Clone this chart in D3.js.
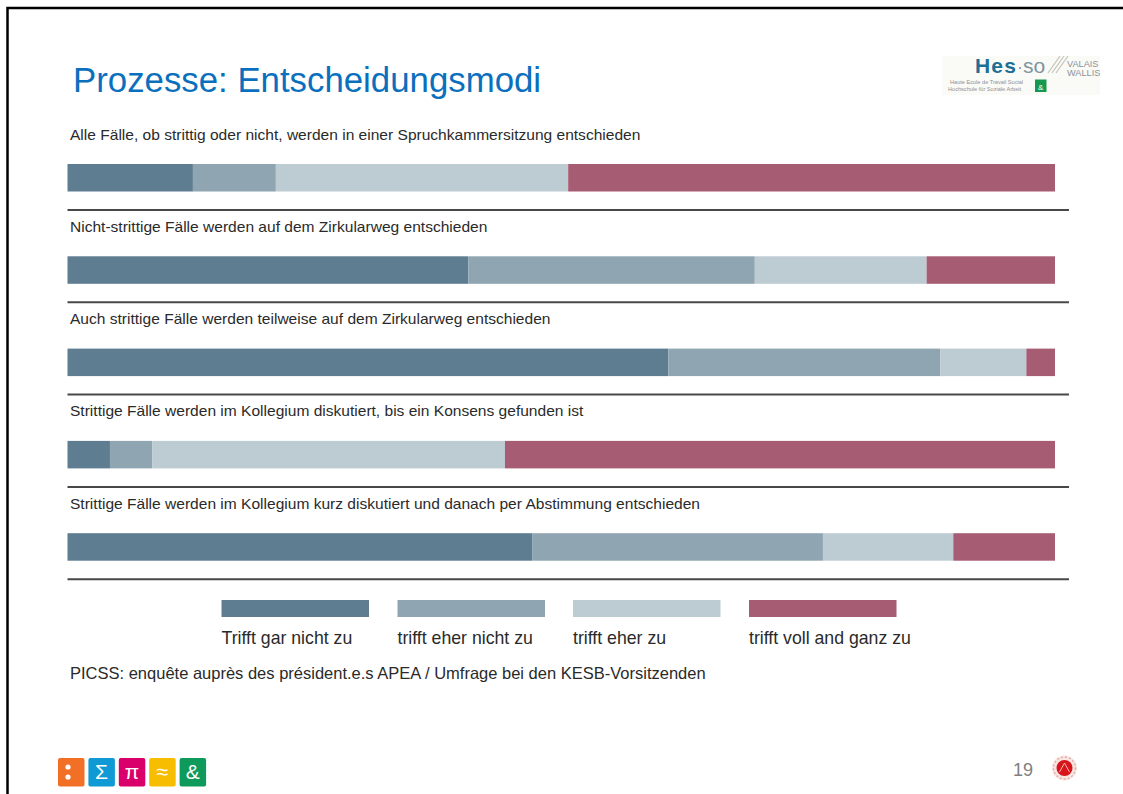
<!DOCTYPE html>
<html><head><meta charset="utf-8">
<script src="https://cdn.jsdelivr.net/npm/d3@7"></script>
<style>html,body{margin:0;padding:0;background:#fff}svg{display:block}text{font-family:"Liberation Sans",Arial,sans-serif}</style>
</head><body><svg id="c" width="1123" height="794"></svg>
<script>
const questions=["Alle Fälle, ob strittig oder nicht, werden in einer Spruchkammersitzung entschieden","Nicht-strittige Fälle werden auf dem Zirkularweg entschieden","Auch strittige Fälle werden teilweise auf dem Zirkularweg entschieden","Strittige Fälle werden im Kollegium diskutiert, bis ein Konsens gefunden ist","Strittige Fälle werden im Kollegium kurz diskutiert und danach per Abstimmung entschieden"];
const categories=["Trifft gar nicht zu","trifft eher nicht zu","trifft eher zu","trifft voll and ganz zu"];
const colours=["#5f7d90","#8fa5b2","#bdcbd3","#a65c72"];
const gar=[12.7,40.6,60.85,4.3,47.05];
const eherNicht=[8.4,29.0,27.55,4.3,29.45];
const eherZu=[29.6,17.4,8.7,35.7,13.2];
const voll=[49.3,13.0,2.9,55.7,10.3];
const logoBoxes=[{c:"#f26f26",t:""},{c:"#0f9ad6",t:"Σ"},{c:"#d9006c",t:"π"},{c:"#f7bd00",t:"≈"},{c:"#0e9a5a",t:"&"}];
const svg=d3.select("#c");
const x=d3.scaleLinear().domain([0,100]).range([67.5,1055]);
const y=d3.scaleBand().domain(d3.range(5)).range([117,578.5]).padding(0);
const series=[gar,eherNicht,eherZu,voll];
const stacked=d3.stack().keys([0,1,2,3]).value((i,k)=>series[k][i])(d3.range(5));
// frame
svg.append("path").attr("d","M7.5,794V8H1123").attr("fill","none").attr("stroke","#000").attr("stroke-width",2.5);
// title
svg.append("text").attr("x",73).attr("y",92).attr("font-size",34.8).attr("fill","#0a70bd").text("Prozesse: Entscheidungsmodi");
// logo
const lg=svg.append("g");
lg.append("rect").attr("x",942).attr("y",56).attr("width",158).attr("height",39).attr("fill","#fafaf7");
lg.append("text").attr("x",975).attr("y",73).attr("font-size",21).attr("font-weight","bold").attr("letter-spacing",1.2).attr("fill","#1d6f96").text("Hes");
lg.append("circle").attr("cx",1020).attr("cy",68).attr("r",1.1).attr("fill","#7d94a1");
lg.append("text").attr("x",1023).attr("y",73).attr("font-size",21).attr("fill","#7d94a1").text("so");
lg.append("path").attr("d","M1048,73L1060,56M1052,73L1064,56M1056,73L1068,56").attr("stroke","#c6c6bc").attr("stroke-width",1.3).attr("fill","none");
lg.append("text").attr("x",1067).attr("y",67).attr("font-size",9.2).attr("fill","#8a9299").text("VALAIS");
lg.append("text").attr("x",1067).attr("y",75.5).attr("font-size",9.2).attr("fill","#8a9299").text("WALLIS");
lg.append("text").attr("x",950).attr("y",84).attr("font-size",5.6).attr("fill","#8a9299").text("Haute Ecole de Travail Social");
lg.append("text").attr("x",948).attr("y",91).attr("font-size",5.6).attr("fill","#8a9299").text("Hochschule für Soziale Arbeit");
lg.append("rect").attr("x",1035).attr("y",79.5).attr("width",11.5).attr("height",12.5).attr("fill","#16994f");
lg.append("text").attr("x",1040.7).attr("y",89.5).attr("text-anchor","middle").attr("font-size",8).attr("fill","#fff").text("&");
// rows
const rowTop=i=>y(i);
svg.append("g").selectAll("text").data(questions).join("text").attr("x",70).attr("y",(d,i)=>rowTop(i)+22.5).attr("font-size",15.55).attr("fill","#2a2a2a").text(d=>d);
stacked.forEach((s,k)=>{
 svg.append("g").selectAll("rect").data(s).join("rect").attr("x",d=>x(d[0])).attr("y",(d,i)=>rowTop(i)+47).attr("width",d=>x(d[1])-x(d[0])).attr("height",27.5).attr("fill",colours[k]);
});
svg.append("g").selectAll("line").data(d3.range(5)).join("line").attr("x1",67.5).attr("x2",1069).attr("y1",i=>rowTop(i)+93).attr("y2",i=>rowTop(i)+93).attr("stroke","#484848").attr("stroke-width",2);
// legend
const lx=[221.5,397.5,573,749];
svg.append("g").selectAll("rect").data(categories).join("rect").attr("x",(d,i)=>lx[i]).attr("y",600).attr("width",147.5).attr("height",17).attr("fill",(d,i)=>colours[i]);
svg.append("g").selectAll("text").data(categories).join("text").attr("x",(d,i)=>lx[i]).attr("y",644).attr("font-size",17.7).attr("fill","#2a2a2a").text(d=>d);
svg.append("text").attr("x",70).attr("y",679).attr("font-size",16.5).attr("fill","#2a2a2a").text("PICSS: enquête auprès des président.e.s APEA / Umfrage bei den KESB-Vorsitzenden");
// bottom logos
const bg=svg.append("g").selectAll("g").data(logoBoxes).join("g").attr("transform",(d,i)=>`translate(${58+i*30.4},758)`);
bg.append("rect").attr("width",26.5).attr("height",28.5).attr("rx",2).attr("fill",d=>d.c);
bg.append("text").attr("x",13.2).attr("y",21).attr("text-anchor","middle").attr("font-size",21).attr("fill","#fff").text(d=>d.t);
svg.append("circle").attr("cx",68).attr("cy",767).attr("r",2.6).attr("fill","#fff");
svg.append("circle").attr("cx",68).attr("cy",777).attr("r",2.6).attr("fill","#fff");
// page
svg.append("text").attr("x",1013).attr("y",776).attr("font-size",18).attr("fill","#808080").text("19");
const mx=1064.5,my=768;
svg.append("circle").attr("cx",mx).attr("cy",my).attr("r",12.5).attr("fill","#f6e6e2");
svg.append("circle").attr("cx",mx).attr("cy",my).attr("r",11).attr("fill","none").attr("stroke","#e9a9a4").attr("stroke-width",1.4).attr("stroke-dasharray","2 2");
svg.append("circle").attr("cx",mx).attr("cy",my).attr("r",8).attr("fill","#d8141c");
svg.append("path").attr("d",`M${mx-5},${my+4}L${mx},${my-5}L${mx+5},${my+4}`).attr("fill","none").attr("stroke","#f6b9b0").attr("stroke-width",1);
</script></body></html>
